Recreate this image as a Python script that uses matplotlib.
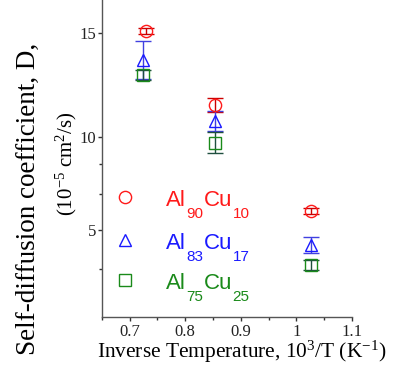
import numpy as np
import matplotlib
matplotlib.use("Agg")
import matplotlib.pyplot as plt
from matplotlib.ticker import FixedLocator, FixedFormatter
from matplotlib.transforms import IdentityTransform

plt.rcParams['font.family'] = ['Liberation Serif', 'DejaVu Serif']
plt.rcParams['mathtext.fontset'] = 'custom'
plt.rcParams['mathtext.rm'] = 'Liberation Serif'
plt.rcParams['mathtext.it'] = 'Liberation Serif:italic'

# 数据: 1000/T (K^-1) 与自扩散系数 D (1e-5 cm^2/s)
x_al90 = [0.729, 0.853, 1.027]
d_al90 = [15.10, 11.53, 5.99]
e_al90 = [0.15, 0.33, 0.15]

x_al83 = [0.724, 0.853, 1.026]
d_al83 = [13.72, 10.77, 4.17]
e_al83 = [0.92, 0.47, 0.42]

x_al75 = [0.724, 0.853, 1.026]
d_al75 = [12.97, 9.70, 3.10]
e_al75 = [0.24, 0.56, 0.28]

# 图例文字: (Al 含量, Cu 含量)
comp = [('90', '10'), ('83', '17'), ('75', '25')]

# 原图纵轴刻度间距不均匀, 用分段线性刻度还原
ax_vals = np.array([-100.0, 5.0, 10.0, 15.0, 100.0])
ax_t = -np.array([230 + 105 * 18.46, 230.0, 137.7, 34.3, 34.3 - 85 * 20.68])


def fwd(v):
    return np.interp(v, ax_vals, ax_t)


def inv(t):
    return np.interp(t, ax_t, ax_vals)


fig = plt.figure(figsize=(3.94, 3.70), dpi=100)
ax = fig.add_axes([0.2581, 0.1441, 0.6353, 0.856])
ax.set_yscale('function', functions=(fwd, inv))

series = [
    (x_al90, d_al90, e_al90, 'o', '#ff1a1a', '#cc0000'),
    (x_al83, d_al83, e_al83, '^', '#1a1aff', '#4040e0'),
    (x_al75, d_al75, e_al75, 's', '#1a8a1a', '#1f4f3f'),
]
for xs, ds, es, m, c, ec in series:
    ax.errorbar(xs, ds, yerr=es, fmt=m, ms=8.8, mfc='none', mec=c, mew=1.0,
                ecolor=ec, elinewidth=1.0, capsize=6, capthick=1.0, zorder=3)

ax.set_xlim(0.65, 1.1)
ax.set_ylim(0.3, 16.6)

ax.xaxis.set_major_locator(FixedLocator([0.7, 0.8, 0.9, 1.0, 1.1]))
ax.xaxis.set_major_formatter(FixedFormatter(['0.7', '0.8', '0.9', '1', '1.1']))
ax.xaxis.set_minor_locator(FixedLocator([0.65, 0.75, 0.85, 0.95, 1.05]))
ax.yaxis.set_major_locator(FixedLocator([5, 10, 15]))
ax.yaxis.set_major_formatter(FixedFormatter(['5', '10', '15']))
ax.yaxis.set_minor_locator(FixedLocator([2.9, 6.9, 8.55]))
ax.yaxis.set_minor_formatter(FixedFormatter([]))

for s in ['top', 'right']:
    ax.spines[s].set_visible(False)
for s in ['left', 'bottom']:
    ax.spines[s].set_color('#555555')
    ax.spines[s].set_linewidth(1.0)

ax.tick_params(axis='both', which='major', direction='out', length=2.8,
               width=1.0, color='#333333', labelsize=12, labelcolor='#222222')
ax.tick_params(axis='both', which='minor', direction='out', length=2.0,
               width=1.0, color='#333333')
ax.tick_params(axis='x', which='major', pad=2.5)
ax.tick_params(axis='y', which='major', pad=1.0)

fig.text(0.614, 0.033, r'Inverse Temperature, 10$^3$/T (K$^{-1}$)',
         fontsize=15.4, ha='center', va='baseline')
fig.text(0.071, 0.462, 'Self-diffusion coefficient, D,', fontsize=19.5,
         rotation=90, ha='center', va='center')
fig.text(0.168, 0.559, r'(10$^{-5}$ cm$^2$/s)', fontsize=15,
         rotation=90, ha='center', va='center')

# 图例 (手动放置, 下标下沉较多)
renderer = fig.canvas.get_renderer()
leg_y = [0.378, 0.241, 0.116]
for (xs, ds, es, m, c, ec), (a, b), yy in zip(series, comp, leg_y):
    ax.plot([0.093], [yy], m, ms=8.8, mfc='none', mec=c, mew=1.0,
            transform=ax.transAxes, clip_on=False)
    px, py = ax.transAxes.transform((0.257, yy))
    py -= 8.8
    for s, sub in [('Al', False), (a, True), ('Cu', False), (b, True)]:
        t = fig.text(px, py - (12.3 if sub else 0), s, color=c,
                     fontsize=11 if sub else 16, family='Liberation Sans',
                     ha='left', va='baseline', transform=IdentityTransform())
        px += t.get_window_extent(renderer).width + 0.5

fig.savefig('out.png', dpi=100)
